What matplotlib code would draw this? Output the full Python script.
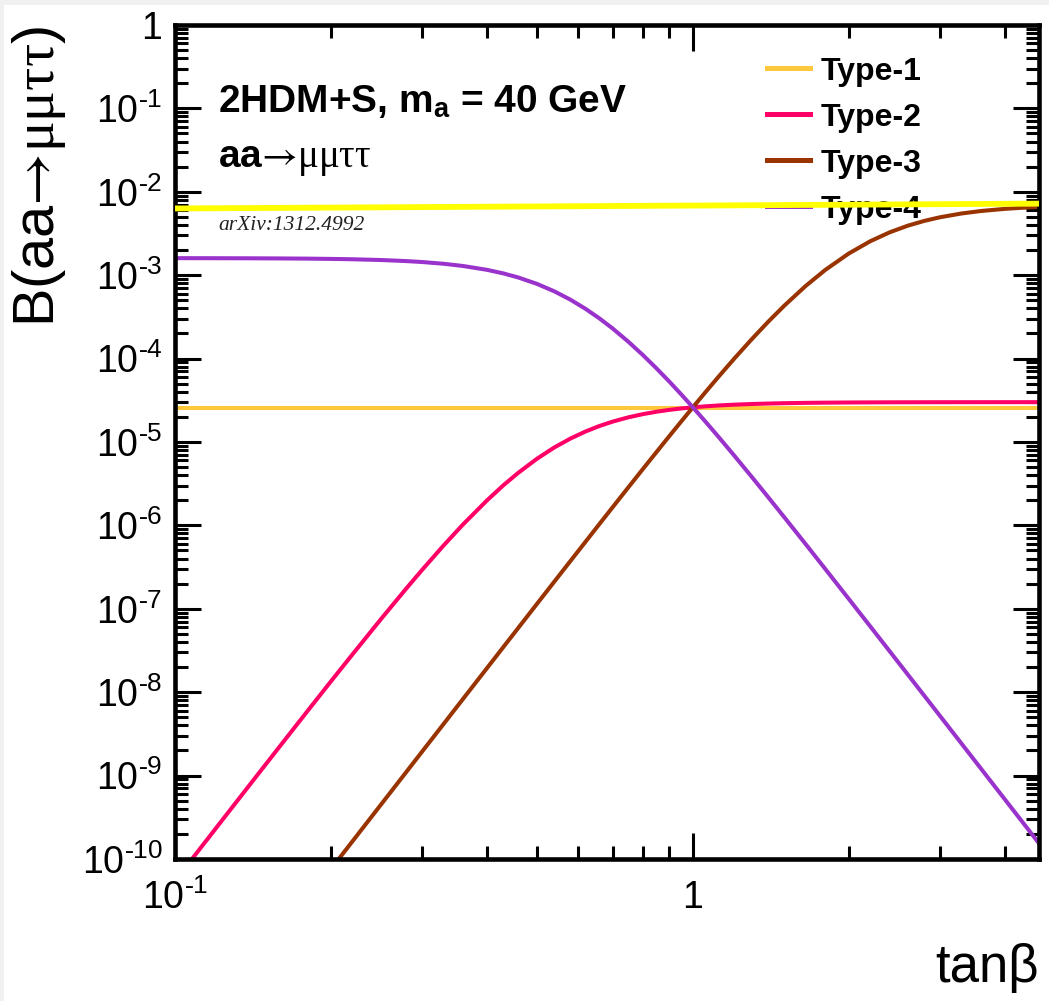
import math
import matplotlib
matplotlib.use("Agg")
import matplotlib.pyplot as plt
from matplotlib.ticker import FixedLocator, LogLocator, FuncFormatter, NullFormatter
from matplotlib.patches import Rectangle

plt.rcParams['font.family'] = ['Liberation Sans', 'DejaVu Sans']
plt.rcParams['mathtext.fontset'] = 'custom'
plt.rcParams['mathtext.rm'] = 'Liberation Serif'
plt.rcParams['mathtext.it'] = 'Liberation Serif:italic'
plt.rcParams['mathtext.bf'] = 'Liberation Sans:bold'
plt.rcParams['mathtext.sf'] = 'Liberation Sans'
plt.rcParams['mathtext.cal'] = 'STIXGeneral'
plt.rcParams['mathtext.default'] = 'rm'

# ---------------- data ----------------
tanb = [0.1, 0.12, 0.14, 0.16, 0.18, 0.2, 0.22, 0.25, 0.28, 0.3, 0.33, 0.36, 0.4,
        0.43, 0.46, 0.5, 0.54, 0.58, 0.62, 0.66, 0.7, 0.75, 0.8, 0.85, 0.9, 0.95,
        1.0, 1.06, 1.12, 1.2, 1.3, 1.4, 1.5, 1.65, 1.8, 2.0, 2.2, 2.4, 2.6, 2.8,
        3.0, 3.3, 3.6, 4.0, 4.3, 4.66]

type2 = [5.46e-11, 2.34e-10, 8.00e-10, 2.31e-9, 5.87e-9, 1.344e-8, 2.82e-8, 7.54e-8,
         1.765e-7, 2.92e-7, 5.72e-7, 1.027e-6, 1.98e-6, 3.00e-6, 4.26e-6, 6.29e-6,
         8.58e-6, 1.097e-5, 1.332e-5, 1.553e-5, 1.753e-5, 1.971e-5, 2.152e-5, 2.301e-5,
         2.423e-5, 2.521e-5, 2.601e-5, 2.677e-5, 2.737e-5, 2.797e-5, 2.850e-5, 2.888e-5,
         2.914e-5, 2.941e-5, 2.958e-5, 2.972e-5, 2.981e-5, 2.987e-5, 2.990e-5, 2.993e-5,
         2.995e-5, 2.996e-5, 2.997e-5, 2.998e-5, 2.999e-5, 2.999e-5]

type3 = [2.95e-13, 1.27e-12, 4.36e-12, 1.268e-11, 3.25e-11, 7.55e-11, 1.619e-10, 4.50e-10,
         1.114e-9, 1.935e-9, 4.14e-9, 8.31e-9, 1.928e-8, 3.435e-8, 5.88e-8, 1.144e-7,
         2.111e-7, 3.725e-7, 6.32e-7, 1.037e-6, 1.650e-6, 2.837e-6, 4.70e-6, 7.52e-6,
         1.169e-5, 1.766e-5, 2.603e-5, 4.02e-5, 6.02e-5, 9.86e-5, 1.713e-4, 2.790e-4,
         4.28e-4, 7.39e-4, 1.150e-3, 1.817e-3, 2.548e-3, 3.265e-3, 3.916e-3, 4.476e-3,
         4.942e-3, 5.483e-3, 5.874e-3, 6.228e-3, 6.410e-3, 6.564e-3]

type4 = [1.598e-3, 1.5955e-3, 1.5916e-3, 1.5857e-3, 1.5773e-3, 1.5655e-3, 1.5499e-3,
         1.5178e-3, 1.4735e-3, 1.4364e-3, 1.3689e-3, 1.2872e-3, 1.1587e-3, 1.0510e-3,
         9.377e-4, 7.852e-4, 6.396e-4, 5.084e-4, 3.958e-4, 3.030e-4, 2.292e-4, 1.598e-4,
         1.1071e-4, 7.659e-5, 5.313e-5, 3.705e-5, 2.603e-5, 1.723e-5, 1.156e-5, 6.941e-6,
         3.794e-6, 2.150e-6, 1.2605e-6, 5.986e-7, 3.019e-7, 1.312e-7, 6.155e-8, 3.079e-8,
         1.627e-8, 9.009e-9, 5.194e-9, 2.426e-9, 1.210e-9, 5.212e-10, 2.924e-10, 1.537e-10]

tanb_flat = [0.1, 4.66]
type1 = [2.55e-5, 2.55e-5]
arxiv = [6.3e-3, 7.2e-3]

labels = ['Type-1', 'Type-2', 'Type-3', 'Type-4']
colors = ['#FFC83C', '#FF0066', '#993300', '#9933CC']

x_major = [0.1, 1.0]
y_major = [1e-10, 1e-9, 1e-8, 1e-7, 1e-6, 1e-5, 1e-4, 1e-3, 1e-2, 1e-1, 1.0]

# ---------------- figure ----------------
fig = plt.figure(figsize=(10.49, 10.01), dpi=100)
# light grey frame strips of the original screenshot
fig.patches.append(Rectangle((0, 1 - 5 / 1001), 1, 5 / 1001, transform=fig.transFigure,
                             facecolor='#F0F0F0', edgecolor='none', zorder=0))
fig.patches.append(Rectangle((0, 0), 4 / 1049, 1, transform=fig.transFigure,
                             facecolor='#F0F0F0', edgecolor='none', zorder=0))

ax = fig.add_axes([0.1668, 0.1419, 0.8237, 0.8332])

lw = 2.9
l1, = ax.plot(tanb_flat, type1, color=colors[0], lw=lw, label=labels[0])
l2, = ax.plot(tanb, type2, color=colors[1], lw=lw, label=labels[1])
l3, = ax.plot(tanb, type3, color=colors[2], lw=lw, label=labels[2])
l4, = ax.plot(tanb, type4, color=colors[3], lw=lw, label=labels[3])
ax.plot(tanb_flat, arxiv, color='#FFFF00', lw=4.2, zorder=6)

ax.set_xscale('log')
ax.set_yscale('log')
ax.set_xlim(0.1, 4.66)
ax.set_ylim(1e-10, 1.0)


def fmt(v, pos):
    if abs(v - 1.0) < 1e-9:
        return '$\\mathsf{1}$'
    e = int(round(math.log10(v)))
    return '$\\mathsf{10^{\\text{-}%d}}$' % abs(e)


ax.xaxis.set_major_locator(FixedLocator(x_major))
ax.yaxis.set_major_locator(FixedLocator(y_major))
ax.xaxis.set_minor_locator(LogLocator(base=10, subs=[2, 3, 4, 5, 6, 7, 8, 9], numticks=50))
ax.yaxis.set_minor_locator(LogLocator(base=10, subs=[2, 3, 4, 5, 6, 7, 8, 9], numticks=50))
ax.xaxis.set_major_formatter(FuncFormatter(fmt))
ax.yaxis.set_major_formatter(FuncFormatter(fmt))
ax.xaxis.set_minor_formatter(NullFormatter())
ax.yaxis.set_minor_formatter(NullFormatter())

ax.tick_params(which='both', direction='in', top=True, right=True, width=2.2,
               labelsize=27, colors='black')
ax.tick_params(which='major', length=19)
ax.tick_params(which='minor', length=9.5)
ax.tick_params(axis='y', which='major', pad=9)
ax.tick_params(axis='x', which='major', pad=15)
for s in ax.spines.values():
    s.set_linewidth(3.3)

ax.set_xlabel('tanβ', fontsize=38, loc='right')
ax.xaxis.set_label_coords(1.0, -0.101)
ax.set_ylabel('B(aa$\\mathcal{→}\\mu\\mu\\tau\\tau$)', fontsize=41.5, loc='top')
ax.yaxis.set_label_coords(-0.124, 0.998)

ax.text(0.0498, 0.8957, '2HDM+S, m$_{\\mathbf{a}}$ = 40 GeV', transform=ax.transAxes,
        fontsize=28, fontweight='bold', va='baseline', ha='left')
ax.text(0.0498, 0.8297, '$\\mathbf{aa}\\mathcal{→}\\mu\\mu\\tau\\tau$', transform=ax.transAxes,
        fontsize=28, va='baseline', ha='left')
ax.text(0.0498, 0.7542, 'arXiv:1312.4992', transform=ax.transAxes, fontsize=15.5,
        family='Liberation Serif', style='italic', color='#222222',
        va='baseline', ha='left')

leg = ax.legend(handles=[l1, l2, l3, l4], loc='upper left',
                bbox_to_anchor=(0.685, 0.962), frameon=False, borderpad=0,
                borderaxespad=0, handlelength=1.35, handletextpad=0.32,
                labelspacing=0.5, prop={'family': 'Liberation Sans', 'weight': 'bold', 'size': 23})
leg.set_zorder(5)
for h in leg.get_lines():
    h.set_linewidth(3.6)

fig.savefig('out.png', dpi=100, facecolor='white')
